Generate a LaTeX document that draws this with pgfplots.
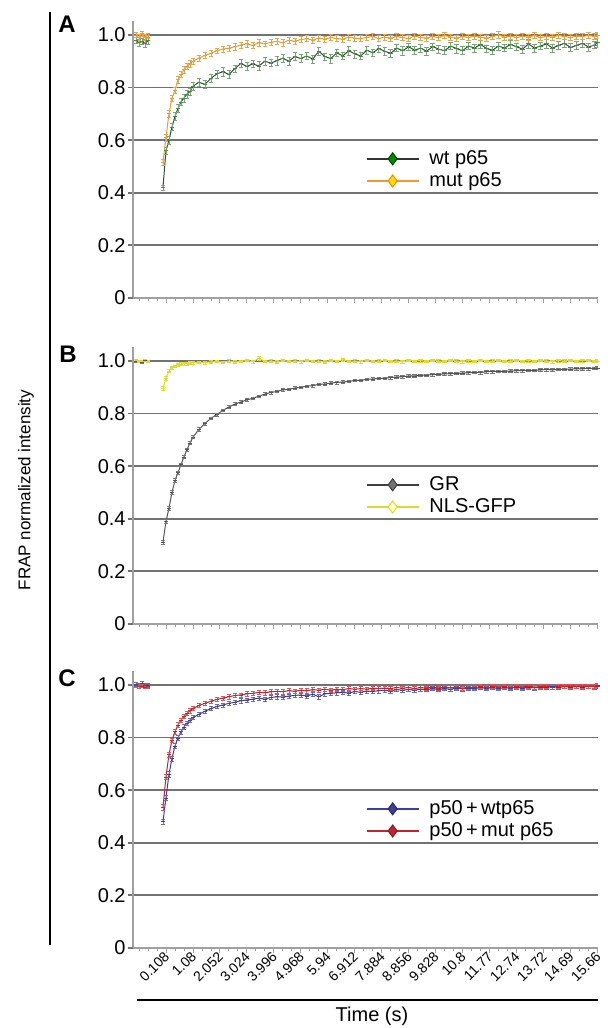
\documentclass[border=0pt]{standalone}
\usepackage{fontspec}
\setmainfont{Liberation Sans}
\usepackage{pgfplots}
\usepackage{pgfplotstable}
\pgfplotsset{compat=1.18}

\definecolor{axgray}{HTML}{A0A0A0}
\definecolor{gridgray}{HTML}{727272}
\definecolor{grnline}{HTML}{2F4F2F}
\definecolor{grnmark}{HTML}{3F8F3F}
\definecolor{grnerr}{HTML}{7F9F7F}
\definecolor{orgline}{HTML}{F29A2E}
\definecolor{orgerr}{HTML}{E8A550}
\definecolor{grline}{HTML}{555555}
\definecolor{grerr}{HTML}{777777}
\definecolor{ylwline}{HTML}{E2D830}
\definecolor{bluline}{HTML}{3E3E9C}
\definecolor{bluerr}{HTML}{6A6AB0}
\definecolor{redline}{HTML}{C4242E}
\definecolor{rederr}{HTML}{D05A60}

% t, series a, error a, series b, error b
\pgfplotstableread{
t a ea b eb
-0.972 0.980 0.012 1.000 0.010
-0.864 0.970 0.015 0.990 0.012
-0.756 0.975 0.012 1.005 0.010
-0.648 0.968 0.014 0.992 0.011
-0.540 0.978 0.012 0.998 0.010
-0.432 nan nan nan nan
0.000 0.420 0.010 0.515 0.012
0.108 0.560 0.012 0.610 0.014
0.216 0.600 0.014 0.700 0.012
0.324 0.650 0.013 0.760 0.012
0.432 0.690 0.014 0.790 0.011
0.540 0.720 0.015 0.830 0.012
0.648 0.745 0.014 0.850 0.011
0.756 0.760 0.016 0.868 0.012
0.864 0.775 0.015 0.880 0.011
0.972 0.785 0.014 0.890 0.012
1.080 0.805 0.016 0.900 0.011
1.296 0.820 0.015 0.912 0.012
1.512 0.812 0.016 0.922 0.011
1.728 0.835 0.014 0.930 0.012
1.944 0.852 0.015 0.940 0.011
2.160 0.860 0.016 0.946 0.012
2.376 0.850 0.015 0.950 0.011
2.592 0.872 0.014 0.955 0.012
2.808 0.892 0.016 0.962 0.011
3.024 0.880 0.015 0.966 0.012
3.240 0.890 0.014 0.960 0.011
3.456 0.882 0.016 0.970 0.012
3.672 0.900 0.015 0.966 0.011
3.888 0.893 0.014 0.972 0.012
4.104 0.902 0.016 0.976 0.011
4.320 0.912 0.015 0.970 0.012
4.536 0.900 0.014 0.980 0.011
4.752 0.918 0.016 0.976 0.012
4.968 0.910 0.015 0.982 0.011
5.184 0.920 0.014 0.986 0.012
5.400 0.908 0.016 0.980 0.011
5.616 0.938 0.015 0.988 0.012
5.832 0.918 0.014 0.984 0.011
6.048 0.910 0.016 0.990 0.012
6.264 0.932 0.015 0.986 0.011
6.480 0.920 0.014 0.984 0.012
6.696 0.940 0.016 0.992 0.011
6.912 0.928 0.015 0.988 0.012
7.128 0.920 0.014 0.986 0.011
7.344 0.942 0.016 0.990 0.012
7.560 0.932 0.015 0.994 0.011
7.776 0.948 0.014 0.986 0.012
7.992 0.938 0.016 0.992 0.011
8.208 0.930 0.015 0.988 0.012
8.424 0.950 0.014 0.994 0.011
8.640 0.940 0.016 0.990 0.012
8.856 0.955 0.015 0.986 0.011
9.072 0.942 0.014 0.996 0.012
9.288 0.950 0.016 0.990 0.011
9.504 0.938 0.015 0.988 0.012
9.720 0.956 0.014 0.994 0.011
9.936 0.946 0.016 0.990 0.012
10.152 0.940 0.015 0.998 0.011
10.368 0.958 0.014 0.992 0.012
10.584 0.948 0.016 0.988 0.011
10.800 0.940 0.015 0.994 0.012
11.016 0.958 0.014 0.990 0.011
11.232 0.950 0.016 0.996 0.012
11.448 0.964 0.015 0.992 0.011
11.664 0.948 0.014 0.988 0.012
11.880 0.942 0.016 0.994 0.011
12.096 0.958 0.015 1.000 0.012
12.312 0.950 0.014 0.992 0.011
12.528 0.964 0.016 0.996 0.012
12.744 0.955 0.015 0.990 0.011
12.960 0.946 0.014 0.994 0.012
13.176 0.966 0.016 0.992 0.011
13.392 0.950 0.015 0.998 0.012
13.608 0.958 0.014 0.990 0.011
13.824 0.966 0.016 0.994 0.012
14.040 0.950 0.015 0.992 0.011
14.256 0.960 0.014 0.998 0.012
14.472 0.968 0.016 0.994 0.011
14.688 0.952 0.015 0.990 0.012
14.904 0.960 0.014 0.996 0.011
15.120 0.968 0.016 0.994 0.012
15.336 0.954 0.015 0.998 0.011
15.552 0.962 0.014 0.994 0.012
15.660 0.970 0.016 1.000 0.011
}\tabA

\pgfplotstableread{
t a ea b eb
-0.972 0.998 0.004 1.002 0.004
-0.864 1.000 0.004 0.998 0.004
-0.756 0.996 0.004 1.000 0.004
-0.648 1.002 0.004 1.004 0.004
-0.540 0.999 0.004 0.998 0.004
-0.432 nan nan nan nan
0.000 0.310 0.008 0.895 0.008
0.108 0.390 0.008 0.935 0.007
0.216 0.440 0.008 0.962 0.006
0.324 0.500 0.007 0.975 0.006
0.432 0.545 0.007 0.980 0.005
0.540 0.575 0.007 0.985 0.005
0.648 0.605 0.007 0.988 0.005
0.756 0.635 0.006 0.990 0.005
0.864 0.662 0.006 0.990 0.005
0.972 0.688 0.006 0.992 0.005
1.080 0.710 0.006 0.993 0.005
1.296 0.740 0.006 0.995 0.005
1.512 0.762 0.006 0.994 0.005
1.728 0.782 0.005 0.996 0.005
1.944 0.796 0.005 0.998 0.005
2.160 0.812 0.005 0.995 0.005
2.376 0.825 0.005 1.000 0.005
2.592 0.836 0.005 0.996 0.005
2.808 0.844 0.005 0.998 0.005
3.024 0.852 0.005 1.002 0.005
3.240 0.858 0.005 0.997 0.005
3.456 0.866 0.005 1.010 0.006
3.672 0.874 0.005 0.998 0.005
3.888 0.880 0.005 1.000 0.005
4.104 0.884 0.005 0.996 0.005
4.320 0.890 0.005 1.002 0.005
4.536 0.892 0.005 0.998 0.005
4.752 0.897 0.005 1.000 0.005
4.968 0.900 0.005 0.997 0.005
5.184 0.904 0.005 1.003 0.005
5.400 0.906 0.005 0.998 0.005
5.616 0.911 0.005 1.000 0.005
5.832 0.912 0.005 0.996 0.005
6.048 0.916 0.005 1.002 0.005
6.264 0.918 0.005 0.999 0.005
6.480 0.920 0.005 1.004 0.005
6.696 0.922 0.005 0.998 0.005
6.912 0.926 0.005 1.000 0.005
7.128 0.926 0.005 0.997 0.005
7.344 0.930 0.005 1.002 0.005
7.560 0.931 0.005 0.998 0.005
7.776 0.934 0.005 1.000 0.005
7.992 0.934 0.005 1.003 0.005
8.208 0.937 0.005 0.998 0.005
8.424 0.939 0.005 1.000 0.005
8.640 0.940 0.005 0.997 0.005
8.856 0.943 0.005 1.002 0.005
9.072 0.943 0.005 0.999 0.005
9.288 0.946 0.005 1.001 0.005
9.504 0.946 0.005 0.998 0.005
9.720 0.948 0.005 1.002 0.005
9.936 0.949 0.005 1.000 0.005
10.152 0.951 0.005 0.998 0.005
10.368 0.951 0.005 1.002 0.005
10.584 0.953 0.005 1.000 0.005
10.800 0.954 0.005 0.997 0.005
11.016 0.955 0.005 1.001 0.005
11.232 0.957 0.005 0.999 0.005
11.448 0.956 0.005 1.003 0.005
11.664 0.959 0.005 0.998 0.005
11.880 0.959 0.005 1.000 0.005
12.096 0.961 0.005 1.002 0.005
12.312 0.960 0.005 0.998 0.005
12.528 0.962 0.005 1.000 0.005
12.744 0.963 0.005 1.003 0.005
12.960 0.963 0.005 0.999 0.005
13.176 0.965 0.005 1.001 0.005
13.392 0.964 0.005 0.998 0.005
13.608 0.966 0.005 1.002 0.005
13.824 0.967 0.005 1.000 0.005
14.040 0.966 0.005 0.997 0.005
14.256 0.968 0.005 1.001 0.005
14.472 0.968 0.005 1.000 0.005
14.688 0.969 0.005 1.003 0.005
14.904 0.970 0.005 0.999 0.005
15.120 0.970 0.005 1.001 0.005
15.336 0.971 0.005 1.002 0.005
15.552 0.972 0.005 0.998 0.005
15.660 0.973 0.005 1.000 0.005
}\tabB

\pgfplotstableread{
t a ea b eb
-0.972 1.002 0.008 0.998 0.006
-0.864 0.996 0.009 0.994 0.006
-0.756 1.004 0.010 0.996 0.006
-0.648 0.998 0.008 0.992 0.006
-0.540 1.000 0.008 0.994 0.006
-0.432 nan nan nan nan
0.000 0.480 0.010 0.535 0.010
0.108 0.570 0.010 0.650 0.010
0.216 0.660 0.010 0.735 0.010
0.324 0.720 0.009 0.790 0.009
0.432 0.768 0.009 0.822 0.009
0.540 0.798 0.009 0.848 0.009
0.648 0.822 0.009 0.866 0.008
0.756 0.840 0.009 0.880 0.008
0.864 0.855 0.008 0.892 0.008
0.972 0.866 0.008 0.902 0.008
1.080 0.876 0.008 0.910 0.008
1.296 0.888 0.008 0.922 0.008
1.512 0.900 0.008 0.930 0.008
1.728 0.910 0.008 0.938 0.008
1.944 0.918 0.008 0.945 0.008
2.160 0.924 0.008 0.950 0.008
2.376 0.930 0.008 0.955 0.008
2.592 0.934 0.008 0.960 0.008
2.808 0.940 0.008 0.962 0.008
3.024 0.943 0.008 0.966 0.008
3.240 0.946 0.008 0.968 0.008
3.456 0.950 0.008 0.972 0.008
3.672 0.946 0.008 0.970 0.008
3.888 0.952 0.008 0.974 0.008
4.104 0.955 0.008 0.976 0.008
4.320 0.954 0.008 0.974 0.008
4.536 0.958 0.008 0.978 0.008
4.752 0.960 0.008 0.976 0.008
4.968 0.962 0.008 0.980 0.008
5.184 0.958 0.008 0.978 0.008
5.400 0.965 0.008 0.982 0.008
5.616 0.955 0.009 0.980 0.008
5.832 0.966 0.008 0.984 0.008
6.048 0.968 0.008 0.980 0.008
6.264 0.970 0.008 0.984 0.008
6.480 0.972 0.008 0.982 0.008
6.696 0.969 0.008 0.986 0.008
6.912 0.975 0.008 0.984 0.008
7.128 0.972 0.008 0.986 0.008
7.344 0.977 0.008 0.984 0.008
7.560 0.975 0.008 0.988 0.008
7.776 0.978 0.008 0.986 0.008
7.992 0.980 0.008 0.988 0.008
8.208 0.977 0.008 0.986 0.008
8.424 0.982 0.008 0.990 0.008
8.640 0.980 0.008 0.988 0.008
8.856 0.983 0.008 0.990 0.008
9.072 0.980 0.008 0.986 0.008
9.288 0.984 0.008 0.990 0.008
9.504 0.982 0.008 0.988 0.008
9.720 0.986 0.008 0.992 0.008
9.936 0.983 0.008 0.988 0.008
10.152 0.986 0.008 0.992 0.008
10.368 0.984 0.008 0.990 0.008
10.584 0.988 0.008 0.992 0.008
10.800 0.985 0.008 0.988 0.008
11.016 0.988 0.008 0.992 0.008
11.232 0.986 0.008 0.990 0.008
11.448 0.990 0.008 0.994 0.008
11.664 0.987 0.008 0.990 0.008
11.880 0.990 0.008 0.994 0.008
12.096 0.986 0.008 0.992 0.008
12.312 0.990 0.008 0.994 0.008
12.528 0.988 0.008 0.990 0.008
12.744 0.992 0.008 0.994 0.008
12.960 0.988 0.008 0.992 0.008
13.176 0.991 0.008 0.996 0.008
13.392 0.989 0.008 0.992 0.008
13.608 0.992 0.008 0.994 0.008
13.824 0.990 0.008 0.996 0.008
14.040 0.993 0.008 0.992 0.008
14.256 0.990 0.008 0.996 0.008
14.472 0.994 0.008 0.994 0.008
14.688 0.991 0.008 0.996 0.008
14.904 0.994 0.008 0.994 0.008
15.120 0.992 0.008 0.996 0.008
15.336 0.995 0.008 0.994 0.008
15.552 0.993 0.008 0.996 0.008
15.660 0.996 0.008 0.998 0.008
}\tabC

\pgfplotsset{
  frapax/.style={
    scale only axis, width=232.5pt, height=138.5pt,
    xmin=-1.08, xmax=15.68, ymin=0, ymax=1.053,
    axis x line*=bottom, axis y line*=left,
    axis line style={-, draw=axgray, line width=0.7pt},
    xtick={0.108,1.08,2.052,3.024,3.996,4.968,5.94,6.912,7.884,8.856,9.828,10.8,11.772,12.744,13.716,14.688,15.66},
    minor xtick={-0.864,-0.54,...,15.7},
    xticklabels={},
    ytick={0.2,0.4,0.6,0.8,1.0}, yticklabels={0.2,0.4,0.6,0.8,1.0},
    extra y ticks={0}, extra y tick labels={0},
    extra y tick style={grid=none},
    ymajorgrids, grid style={draw=gridgray, line width=0.9pt},
    tick align=outside, major tick length=2.5pt, minor tick length=1.5pt,
    xtick style={draw=axgray, line width=0.4pt},
    ytick style={draw=gridgray, line width=0.9pt},
    yticklabel style={font=\fontsize{10}{10}\selectfont, inner sep=1pt},
    unbounded coords=jump,
    legend style={draw=none, fill=none, font=\fontsize{10}{11}\selectfont,
      at={(rel axis cs:0.487,0.556)}, anchor=north west,
      row sep=0.6pt, column sep=4pt, nodes={inner sep=1pt}},
    legend cell align=left,
    legend image code/.code={\draw[mark repeat=2, mark phase=2, #1]
      plot coordinates {(0pt,0pt) (13pt,0pt) (26pt,0pt)};},
  },
  ser/.style n args={3}{forget plot, draw=#1, line width=0.5pt,
    mark=-, mark size=1.1pt, mark options={draw=#2, line width=0.4pt},
    error bars/.cd, y dir=both, y explicit,
    error bar style={draw=#3, line width=0.3pt},
    error mark options={rotate=90, mark size=1.1pt, draw=#3, line width=0.3pt}},
  leg/.style n args={3}{draw=#1, line width=0.8pt, mark=diamond*, mark size=3pt,
    mark options={fill=#2, draw=#3, line width=0.5pt}},
}

\begin{document}
\begin{tikzpicture}
\useasboundingbox (0,0) rectangle (303.5pt,514pt);

% panel A
\begin{axis}[frapax, at={(66.5pt,365pt)}, anchor=south west]
  \addplot[ser={grnline}{grnmark}{grnerr}] table[x=t, y=a, y error=ea] {\tabA};
  \addplot[ser={orgline}{orgline}{orgerr}] table[x=t, y=b, y error=eb] {\tabA};
  \addlegendimage{leg={black!80}{green!55!black}{green!25!black}}
  \addlegendentry{wt p65}
  \addlegendimage{leg={orgline}{yellow!85!orange}{orange}}
  \addlegendentry{mut p65}
\end{axis}

% panel B
\begin{axis}[frapax, at={(66.5pt,202pt)}, anchor=south west]
  \addplot[ser={grline}{grline}{grerr}] table[x=t, y=a, y error=ea] {\tabB};
  \addplot[ser={ylwline}{ylwline}{ylwline}] table[x=t, y=b, y error=eb] {\tabB};
  \addlegendimage{leg={black!75}{black!55}{black!75}}
  \addlegendentry{GR}
  \addlegendimage{leg={ylwline}{yellow!20}{ylwline}}
  \addlegendentry{NLS-GFP}
\end{axis}

% panel C
\begin{axis}[frapax, at={(66.5pt,40pt)}, anchor=south west,
    xticklabels={0.108,1.08,2.052,3.024,3.996,4.968,5.94,6.912,7.884,8.856,9.828,10.8,11.77,12.74,13.72,14.69,15.66},
    xticklabel style={font=\fontsize{7}{7}\selectfont, rotate=45, anchor=north east,
      inner sep=1pt, yshift=3pt, xshift=1pt}]
  \addplot[ser={bluline}{bluline}{bluerr}] table[x=t, y=a, y error=ea] {\tabC};
  \addplot[ser={redline}{redline}{rederr}] table[x=t, y=b, y error=eb] {\tabC};
  \addlegendimage{leg={bluline}{bluline}{bluline!70!black}}
  \addlegendentry{p50\,+\,wtp65}
  \addlegendimage{leg={redline}{redline}{redline!70!black}}
  \addlegendentry{p50\,+\,mut p65}
\end{axis}

% decorations: brackets, shared labels, panel letters
\draw[line width=1pt] (25pt,508pt) -- (25pt,41.5pt);
\draw[line width=1pt] (68.5pt,14pt) -- (299pt,14pt);
\node[rotate=90, font=\fontsize{8.5}{9}\selectfont] at (13pt,269pt) {FRAP normalized intensity};
\node[font=\fontsize{10}{10}\selectfont] at (186pt,6pt) {Time (s)};
\node[font=\bfseries\fontsize{12}{12}\selectfont] at (33.5pt,502pt) {A};
\node[font=\bfseries\fontsize{12}{12}\selectfont] at (34pt,337pt) {B};
\node[font=\bfseries\fontsize{12}{12}\selectfont] at (33.5pt,175pt) {C};
\end{tikzpicture}
\end{document}
